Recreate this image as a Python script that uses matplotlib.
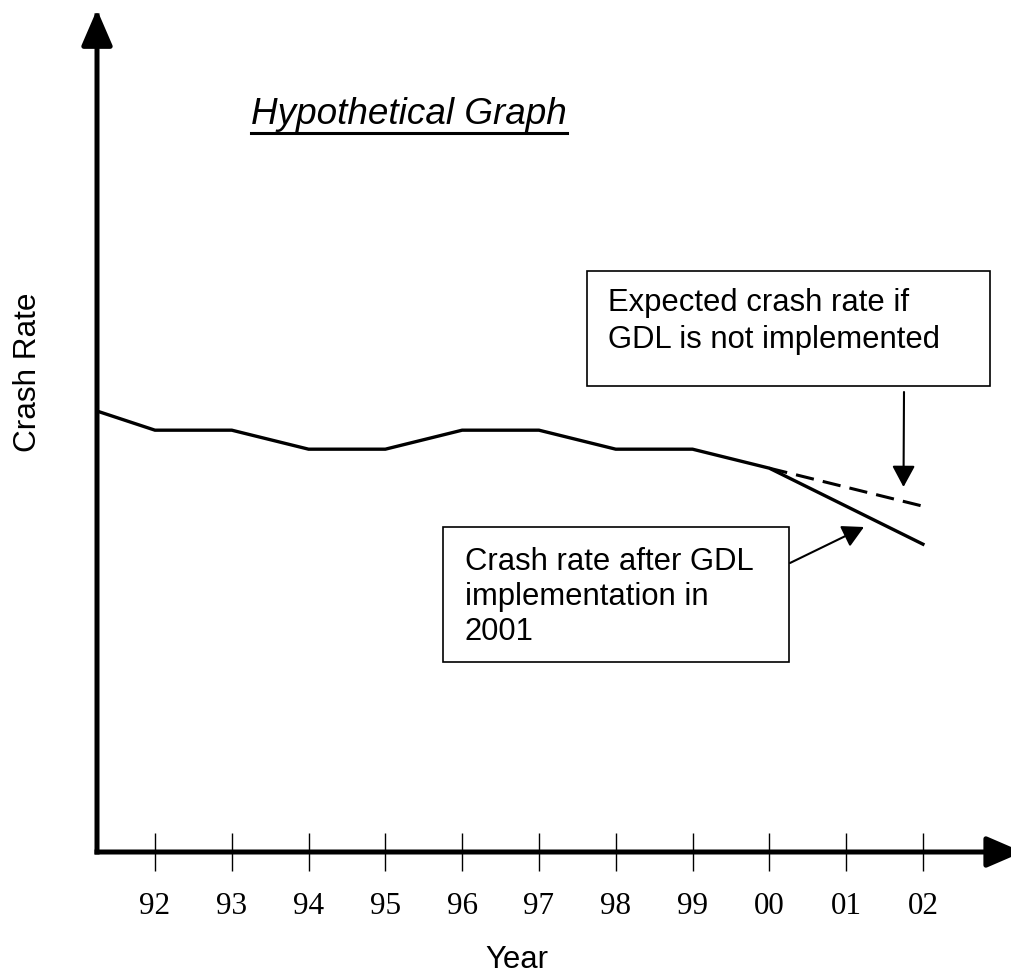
import matplotlib
matplotlib.use('Agg')
import matplotlib.pyplot as plt
import matplotlib.transforms as mtransforms
from matplotlib.patches import Rectangle

years = ['92', '93', '94', '95', '96', '97', '98', '99', '00', '01', '02']
year_pos = list(range(len(years)))

# crash rate, starting at the y axis (early 1991), arbitrary units
rate_x = [-0.75, 0, 1, 2, 3, 4, 5, 6, 7, 8, 9, 10]
rate_y = [23.2, 22.2, 22.2, 21.2, 21.2, 22.2, 22.2, 21.2, 21.2, 20.2, 18.2, 16.2]

# expected rate if GDL not implemented
expected_x = [8, 9, 10]
expected_y = [20.2, 19.2, 18.2]

W, H = 1012, 974
fig = plt.figure(figsize=(W / 100, H / 100), dpi=100)
# pixel coords measured from top-left, used for the annotation layout
px = mtransforms.Affine2D().scale(1 / W, -1 / H).translate(0, 1) + fig.transFigure

ax = fig.add_axes([97 / W, 1 - 852 / H, (W - 97) / W, 852 / H])
ax.set_xlim(-0.755, 11.16)
ax.set_ylim(0, 44.84)
ax.patch.set_visible(False)
for s in ax.spines.values():
    s.set_visible(False)
ax.set_yticks([])
ax.set_xticks(year_pos)
ax.set_xticklabels(years, family='Liberation Serif', fontsize=22.4)
ax.tick_params(axis='x', direction='inout', length=28, width=1.0, pad=14.5, colors='black')

# axes drawn as arrows
axis_arrow = dict(arrowstyle='-|>,head_length=22,head_width=9.5', lw=3.6, color='black',
                  shrinkA=0, shrinkB=0, capstyle='projecting', mutation_scale=1)
ax.annotate('', xy=(-0.755, 44.34), xytext=(-0.755, 0), arrowprops=axis_arrow,
            annotation_clip=False)
ax.annotate('', xy=(11.3, 0), xytext=(-0.755, 0), arrowprops=axis_arrow,
            annotation_clip=False)

ax.plot(rate_x, rate_y, color='black', lw=2.4, solid_joinstyle='miter', clip_on=False)
ax.plot(expected_x, expected_y, color='black', lw=2.2, dashes=(6, 3), clip_on=False)

sans = 'Liberation Sans'

# title, underlined
title = fig.text(251, 124, 'Hypothetical Graph', transform=px, family=sans,
                 style='italic', fontsize=26.6, va='baseline')
fig.canvas.draw()
bb = title.get_window_extent()
fig.add_artist(plt.Line2D([bb.x0 / W, bb.x1 / W], [1 - 133 / H, 1 - 133 / H],
                          transform=fig.transFigure, color='black', lw=2.2))

fig.text(28, 372, 'Crash Rate', transform=px, family=sans, fontsize=22.7,
         rotation=90, ha='center', va='center')
fig.text(516.5, 968, 'Year', transform=px, family=sans, fontsize=22.4,
         ha='center', va='baseline')

# callout boxes
fig.add_artist(Rectangle((587, 271), 403, 115, transform=px, fill=False,
                         edgecolor='black', lw=1.2))
for yy, line in zip([311, 348], ['Expected crash rate if', 'GDL is not implemented']):
    fig.text(608, yy, line, transform=px, family=sans, fontsize=22.3, va='baseline')

fig.add_artist(Rectangle((443, 527), 346, 135, transform=px, fill=False,
                         edgecolor='black', lw=1.2))
for yy, line in zip([570, 605, 640], ['Crash rate after GDL', 'implementation in', '2001']):
    fig.text(465, yy, line, transform=px, family=sans, fontsize=22.3, va='baseline')

small_arrow = dict(arrowstyle='-|>,head_length=13,head_width=7', lw=1.5, color='black',
                   shrinkA=0, shrinkB=0, mutation_scale=1)
ax.annotate('', xy=(903.5, 487), xycoords=px, xytext=(904, 392), textcoords=px,
            arrowprops=small_arrow)
ax.annotate('', xy=(864, 527), xycoords=px, xytext=(790, 563), textcoords=px,
            arrowprops=small_arrow)

fig.savefig('out.png', dpi=100)
